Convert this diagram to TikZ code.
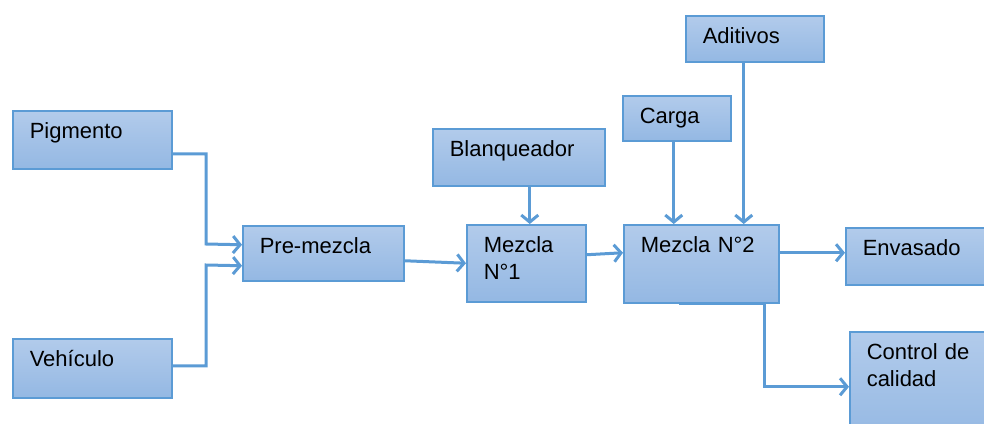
\documentclass[tikz,border=0pt]{standalone}
\usepackage{fontspec}
\setmainfont{Liberation Sans}
\usetikzlibrary{arrows.meta,calc}
\definecolor{borde}{RGB}{91,155,213}
\definecolor{cajaarriba}{RGB}{178,203,235}
\definecolor{cajaabajo}{RGB}{148,184,227}

\begin{document}
\begin{tikzpicture}[x=1pt,y=-1pt,
    paso/.style={draw=borde, line width=1.5pt, top color=cajaarriba, bottom color=cajaabajo,
      anchor=north west, inner xsep=17pt, inner ysep=0pt, text height=28pt, align=left,
      font=\fontsize{22}{27}\selectfont},
    flecha/.style={draw=borde, line width=3pt, -{Straight Barb[length=7pt,width=17pt]}}]
			%%%%% START %%%%%
			\useasboundingbox (0,0) rectangle (984,423);
			
			\node[paso, text width=125pt, text depth=30pt] (pig) at (12,110) {Pigmento};
			\node[paso, text width=125pt, text depth=31pt] (veh) at (12,338) {Vehículo};
			\node[paso, text width=127pt, text depth=27pt] (pre) at (242,225) {Pre-mezcla};
			\node[paso, text width=138pt, text depth=29pt] (blanq) at (432,128) {Blanqueador};
			\node[paso, text width=85pt, text depth=49pt] (mez1) at (466,224) {Mezcla\\N°1};
			\node[paso, text width=74pt, text depth=17pt] (carga) at (622,95) {Carga};
			\node[paso, text width=104pt, text depth=18pt] (adit) at (685,15) {Aditivos};
			\node[paso, text width=121pt, text depth=50pt] (mez2) at (623,224) {Mezcla N°2};
			\node[paso, text width=126pt, text depth=29pt] (env) at (845,227) {Envasado};
			\node[paso, text width=126pt, text depth=82pt] (ctrl) at (849,331) {Control de\\calidad};
			
			% entradas a la pre-mezcla
			\draw[flecha] ([yshift=-14pt]pig.east) -| (206,244) -- ([yshift=8.5pt]pre.west);
			\draw[flecha] ([yshift=2.5pt]veh.east) -| (206,265) -- ([yshift=-12.5pt]pre.west);
			
			\draw[flecha] ([yshift=-7.5pt]pre.east) -- (mez1.west);
			\draw[flecha] ([yshift=8.5pt]mez1.east) -- ([yshift=11pt]mez2.west);
			
			\coordinate (b1) at ([xshift=11pt]blanq.south);
			\draw[flecha] (b1) -- (b1 |- mez1.north);
			
			\coordinate (k1) at ([xshift=-3pt]carga.south);
			\draw[flecha] (k1) -- (k1 |- mez2.north);
			
			\coordinate (a1) at ([xshift=-11pt]adit.south);
			\draw[flecha] (a1) -- (a1 |- mez2.north);
			
			% salidas
			\coordinate (s1) at ([yshift=11pt]mez2.east);
			\draw[flecha] (s1) -- (s1 -| env.west);
			
			\coordinate (c1) at ([xshift=-22.5pt]mez2.south);
			\coordinate (c2) at ([xshift=63.5pt]mez2.south);
			\draw[flecha] (c1) -- (c2) |- (ctrl.west);
			
			%%%%% END %%%%%
\end{tikzpicture}
\end{document}
